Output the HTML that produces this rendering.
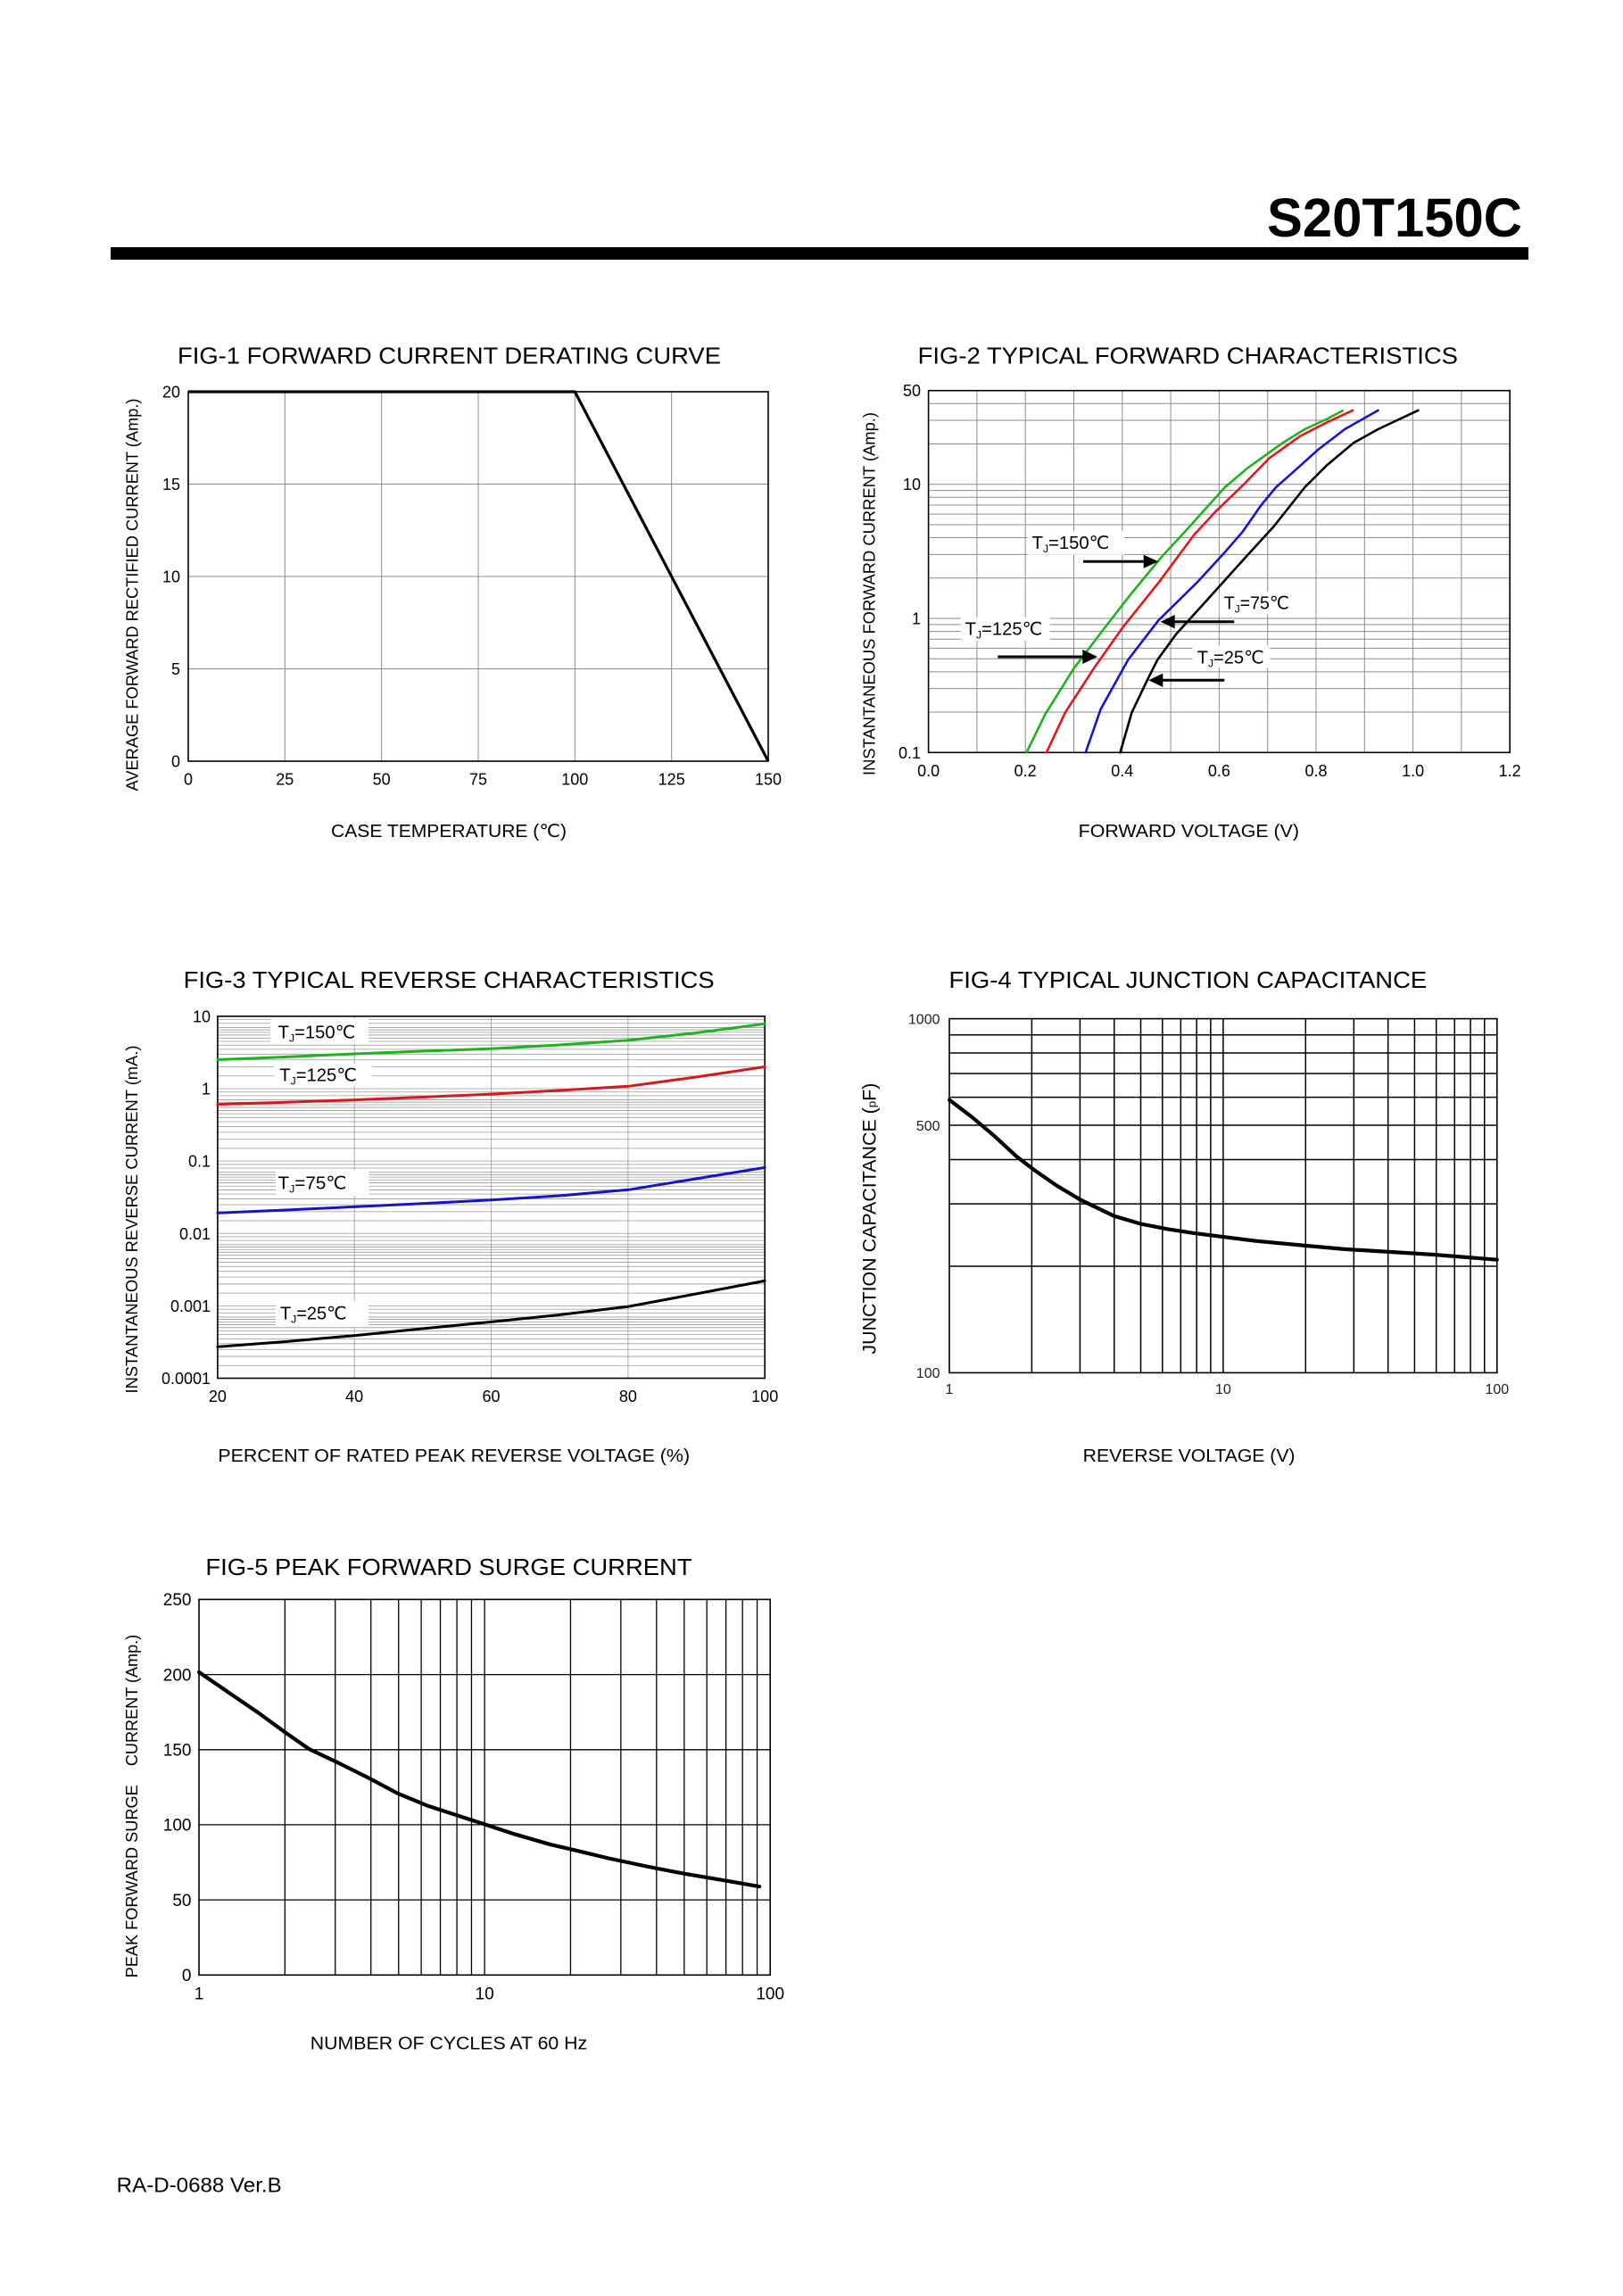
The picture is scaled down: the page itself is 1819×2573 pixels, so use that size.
<!DOCTYPE html>
<html>
<head>
<meta charset="utf-8">
<style>
html,body{margin:0;padding:0;background:#fff;}
svg{display:block;}
text{font-family:"Liberation Sans","DejaVu Sans","Noto Sans CJK SC",sans-serif;fill:#000;}
.t{font-size:26px;}
.tk{font-size:18px;}
.ax{font-size:20px;}
.yl{font-size:18px;}
.g{stroke:#8c8c8c;stroke-width:1;fill:none;}
.g3{stroke:#9a9a9a;stroke-width:0.8;fill:none;}
.gb{stroke:#000;stroke-width:1.5;fill:none;}
.bd{stroke:#000;stroke-width:1.6;fill:none;}
.lbl{font-size:20px;}
</style>
</head>
<body>
<svg width="1819" height="2573" viewBox="0 0 1819 2573" xmlns="http://www.w3.org/2000/svg">
<rect x="0" y="0" width="1819" height="2573" fill="#fff"/>

<!-- Header -->
<text x="1420" y="265" font-size="61" font-weight="bold" textLength="286" lengthAdjust="spacingAndGlyphs">S20T150C</text>
<rect x="124" y="277" width="1589" height="14" fill="#000"/>

<!-- ================= FIG 1 ================= -->
<text class="t" x="199" y="407.5" textLength="609" lengthAdjust="spacingAndGlyphs">FIG-1 FORWARD CURRENT DERATING CURVE</text>
<path class="g" d="M319.33 439V853M427.67 439V853M536 439V853M644.33 439V853M752.67 439V853M211 542.5H861M211 646H861M211 749.5H861"/>
<rect class="bd" x="211" y="439" width="650" height="414"/>
<polyline points="211,439 644.3,439 861,853" fill="none" stroke="#000" stroke-width="3.2" stroke-linejoin="round"/>
<g class="tk" text-anchor="end">
<text x="202" y="445.5">20</text>
<text x="202" y="549">15</text>
<text x="202" y="652.5">10</text>
<text x="202" y="756">5</text>
<text x="202" y="859.5">0</text>
</g>
<g class="tk" text-anchor="middle">
<text x="211" y="879.5">0</text>
<text x="319.3" y="879.5">25</text>
<text x="427.7" y="879.5">50</text>
<text x="536" y="879.5">75</text>
<text x="644.3" y="879.5">100</text>
<text x="752.7" y="879.5">125</text>
<text x="861" y="879.5">150</text>
</g>
<text class="yl" transform="translate(154.5,666.5) rotate(-90)" text-anchor="middle" textLength="440" lengthAdjust="spacingAndGlyphs">AVERAGE FORWARD RECTIFIED CURRENT (Amp.)</text>
<text class="ax" x="371" y="938" textLength="264" lengthAdjust="spacingAndGlyphs">CASE TEMPERATURE (℃)</text>

<!-- ================= FIG 2 ================= -->
<text class="t" x="1028.6" y="407.5" textLength="605.4" lengthAdjust="spacingAndGlyphs">FIG-2 TYPICAL FORWARD CHARACTERISTICS</text>
<path class="g" d="M1094.9 437.7V843.3M1149.2 437.7V843.3M1203.5 437.7V843.3M1257.8 437.7V843.3M1312.1 437.7V843.3M1366.4 437.7V843.3M1420.7 437.7V843.3M1475 437.7V843.3M1529.3 437.7V843.3M1583.6 437.7V843.3M1637.9 437.7V843.3
M1040.6 798.06H1692.2M1040.6 771.6H1692.2M1040.6 752.82H1692.2M1040.6 738.26H1692.2M1040.6 726.36H1692.2M1040.6 716.3H1692.2M1040.6 707.58H1692.2M1040.6 699.89H1692.2M1040.6 693.02H1692.2
M1040.6 647.78H1692.2M1040.6 621.32H1692.2M1040.6 602.54H1692.2M1040.6 587.98H1692.2M1040.6 576.08H1692.2M1040.6 566.02H1692.2M1040.6 557.3H1692.2M1040.6 549.61H1692.2M1040.6 542.74H1692.2
M1040.6 497.5H1692.2M1040.6 471.04H1692.2M1040.6 452.26H1692.2"/>
<rect class="bd" x="1040.6" y="437.7" width="651.6" height="405.6"/>
<!-- label boxes -->
<rect x="1151.7" y="595" width="108.3" height="26.7" fill="#fff"/>
<rect x="1076.7" y="691.7" width="100" height="26.6" fill="#fff"/>
<rect x="1366.7" y="663.3" width="83.3" height="25" fill="#fff"/>
<rect x="1336.7" y="723.3" width="86.6" height="25" fill="#fff"/>
<!-- curves -->
<g fill="none" stroke-width="2.6" stroke-linejoin="round" stroke-linecap="round">
<polyline stroke="#1fb21f" points="1150.5,843.3 1171.4,800.5 1203.7,748.8 1238.6,702.9 1268.4,664.6 1303.2,622.6 1328.1,595.8 1372.9,546 1397.7,525 1437.5,496.3 1462.4,481 1487.3,469.5 1504.7,460.3"/>
<polyline stroke="#e01818" points="1172.9,843.3 1193.8,798.6 1226.1,748.8 1258.5,702.9 1298.3,653.2 1338.1,599.6 1362.9,572.8 1392.8,544.1 1422.6,513.5 1457.4,488.6 1487.3,473.3 1516.1,459.9"/>
<polyline stroke="#1515cc" points="1216.7,843.3 1233.6,794.8 1264.4,739.3 1298.3,695.3 1343,651.3 1372.9,618.7 1392.8,595.8 1412.7,567.1 1430.1,546 1447.5,530.7 1477.3,503.9 1507.2,481 1544.5,459.9"/>
<polyline stroke="#000" points="1255.5,843.3 1268.4,798.6 1285.8,762.2 1297.3,739.3 1318.2,710.6 1353,672.3 1397.7,622.6 1427.6,590 1462.4,546 1487.3,521.2 1517.1,496.3 1544.5,481 1589.3,459.9"/>
</g>
<!-- labels -->
<text class="lbl" x="1156.7" y="615" textLength="86.6" lengthAdjust="spacingAndGlyphs">T<tspan font-size="12" dy="4">J</tspan><tspan dy="-4">=150℃</tspan></text>
<text class="lbl" x="1081.7" y="711.7" textLength="86.6" lengthAdjust="spacingAndGlyphs">T<tspan font-size="12" dy="4">J</tspan><tspan dy="-4">=125℃</tspan></text>
<text class="lbl" x="1371.7" y="682.7" textLength="73.3" lengthAdjust="spacingAndGlyphs">T<tspan font-size="12" dy="4">J</tspan><tspan dy="-4">=75℃</tspan></text>
<text class="lbl" x="1341.7" y="743.3" textLength="75" lengthAdjust="spacingAndGlyphs">T<tspan font-size="12" dy="4">J</tspan><tspan dy="-4">=25℃</tspan></text>
<!-- arrows -->
<g stroke="#000" stroke-width="3">
<line x1="1214" y1="629.3" x2="1284" y2="629.3"/>
<line x1="1118.3" y1="736" x2="1215" y2="736"/>
<line x1="1383.3" y1="696.7" x2="1315" y2="696.7"/>
<line x1="1372.3" y1="762.3" x2="1302" y2="762.3"/>
</g>
<g fill="#000">
<polygon points="1298.3,629.3 1281.7,621.8 1281.7,636.8"/>
<polygon points="1230,736 1213.3,728 1213.3,744"/>
<polygon points="1300.7,696.7 1316.7,689 1316.7,704.4"/>
<polygon points="1287.3,762.3 1303.3,754.6 1303.3,770"/>
</g>
<g class="tk" text-anchor="end">
<text x="1032" y="444.2">50</text>
<text x="1032" y="549.2">10</text>
<text x="1032" y="699.5">1</text>
<text x="1032" y="849.8">0.1</text>
</g>
<g class="tk" text-anchor="middle">
<text x="1040.6" y="870">0.0</text>
<text x="1149.2" y="870">0.2</text>
<text x="1257.8" y="870">0.4</text>
<text x="1366.4" y="870">0.6</text>
<text x="1475" y="870">0.8</text>
<text x="1583.6" y="870">1.0</text>
<text x="1692.2" y="870">1.2</text>
</g>
<text class="yl" transform="translate(980.5,665.5) rotate(-90)" text-anchor="middle" textLength="407" lengthAdjust="spacingAndGlyphs">INSTANTANEOUS FORWARD CURRENT (Amp.)</text>
<text class="ax" x="1208.7" y="938" textLength="247.3" lengthAdjust="spacingAndGlyphs">FORWARD VOLTAGE (V)</text>

<!-- ================= FIG 3 ================= -->
<text class="t" x="205.6" y="1107" textLength="595" lengthAdjust="spacingAndGlyphs">FIG-3 TYPICAL REVERSE CHARACTERISTICS</text>
<path class="g3" d="M397.2 1138.9V1544.5M550.5 1138.9V1544.5M703.9 1138.9V1544.5
M243.9 1530.22H857.2M243.9 1520.08H857.2M243.9 1512.22H857.2M243.9 1505.8H857.2M243.9 1500.36H857.2M243.9 1495.66H857.2M243.9 1491.51H857.2M243.9 1487.8H857.2M243.9 1484.44H857.2M243.9 1481.38H857.2M243.9 1478.56H857.2M243.9 1475.94H857.2M243.9 1471.24H857.2M243.9 1467.09H857.2M243.9 1463.38H857.2
M243.9 1449.1H857.2M243.9 1438.96H857.2M243.9 1431.1H857.2M243.9 1424.68H857.2M243.9 1419.24H857.2M243.9 1414.54H857.2M243.9 1410.39H857.2M243.9 1406.68H857.2M243.9 1403.32H857.2M243.9 1400.26H857.2M243.9 1397.44H857.2M243.9 1394.82H857.2M243.9 1390.12H857.2M243.9 1385.97H857.2M243.9 1382.26H857.2
M243.9 1367.98H857.2M243.9 1357.84H857.2M243.9 1349.98H857.2M243.9 1343.56H857.2M243.9 1338.12H857.2M243.9 1333.42H857.2M243.9 1329.27H857.2M243.9 1325.56H857.2M243.9 1322.2H857.2M243.9 1319.14H857.2M243.9 1316.32H857.2M243.9 1313.7H857.2M243.9 1309H857.2M243.9 1304.85H857.2M243.9 1301.14H857.2
M243.9 1286.86H857.2M243.9 1276.72H857.2M243.9 1268.86H857.2M243.9 1262.44H857.2M243.9 1257H857.2M243.9 1252.3H857.2M243.9 1248.15H857.2M243.9 1244.44H857.2M243.9 1241.08H857.2M243.9 1238.02H857.2M243.9 1235.2H857.2M243.9 1232.58H857.2M243.9 1227.88H857.2M243.9 1223.73H857.2M243.9 1220.02H857.2
M243.9 1205.74H857.2M243.9 1195.6H857.2M243.9 1187.74H857.2M243.9 1181.32H857.2M243.9 1175.88H857.2M243.9 1171.18H857.2M243.9 1167.03H857.2M243.9 1163.32H857.2M243.9 1159.96H857.2M243.9 1156.9H857.2M243.9 1154.08H857.2M243.9 1151.46H857.2M243.9 1146.76H857.2M243.9 1142.61H857.2"/>
<rect class="bd" x="243.9" y="1138.9" width="613.3" height="405.6"/>
<!-- label boxes -->
<rect x="303" y="1141.5" width="110" height="28.5" fill="#fff"/>
<rect x="306.7" y="1192" width="110" height="25" fill="#fff"/>
<rect x="309" y="1311" width="104.5" height="29" fill="#fff"/>
<rect x="309" y="1458.4" width="104" height="28.6" fill="#fff"/>
<g fill="none" stroke-width="3" stroke-linejoin="round" stroke-linecap="round">
<polyline stroke="#1fb21f" points="243.9,1187.5 320,1184.5 397.1,1181 473,1178 550.3,1175.2 627,1171 704.5,1165.7 780,1157.5 857.2,1147.3"/>
<polyline stroke="#d41a1a" points="243.9,1237.6 320,1235.2 397.1,1232.6 473,1229.5 550.3,1226.1 627,1222 704.5,1217.3 780,1207 857.2,1195.5"/>
<polyline stroke="#1515c8" points="243.9,1359.3 320,1356 397.1,1352.4 473,1348.8 550.3,1344.8 627,1340 704.5,1333.3 780,1321 857.2,1308.4"/>
<polyline stroke="#000" points="243.9,1509.3 320,1503.5 397.1,1496.7 473,1489 550.3,1481.4 627,1473.5 704.5,1464.1 780,1450 857.2,1435.4"/>
</g>
<text class="lbl" x="311.7" y="1163.3" textLength="86.6" lengthAdjust="spacingAndGlyphs">T<tspan font-size="12" dy="4">J</tspan><tspan dy="-4">=150℃</tspan></text>
<text class="lbl" x="313.3" y="1211.7" textLength="86.7" lengthAdjust="spacingAndGlyphs">T<tspan font-size="12" dy="4">J</tspan><tspan dy="-4">=125℃</tspan></text>
<text class="lbl" x="311.5" y="1332.5" textLength="77" lengthAdjust="spacingAndGlyphs">T<tspan font-size="12" dy="4">J</tspan><tspan dy="-4">=75℃</tspan></text>
<text class="lbl" x="314" y="1478.5" textLength="74.6" lengthAdjust="spacingAndGlyphs">T<tspan font-size="12" dy="4">J</tspan><tspan dy="-4">=25℃</tspan></text>
<g class="tk" text-anchor="end">
<text x="236" y="1145.4">10</text>
<text x="236" y="1226.5">1</text>
<text x="236" y="1307.6">0.1</text>
<text x="236" y="1388.8">0.01</text>
<text x="236" y="1469.9">0.001</text>
<text x="236" y="1551">0.0001</text>
</g>
<g class="tk" text-anchor="middle">
<text x="243.9" y="1571">20</text>
<text x="397.2" y="1571">40</text>
<text x="550.5" y="1571">60</text>
<text x="703.9" y="1571">80</text>
<text x="857.2" y="1571">100</text>
</g>
<text class="yl" transform="translate(154,1366.5) rotate(-90)" text-anchor="middle" textLength="390" lengthAdjust="spacingAndGlyphs">INSTANTANEOUS REVERSE CURRENT (mA.)</text>
<text class="ax" x="244.4" y="1638" textLength="528.7" lengthAdjust="spacingAndGlyphs">PERCENT OF RATED PEAK REVERSE VOLTAGE (%)</text>

<!-- ================= FIG 4 ================= -->
<text class="t" x="1063.5" y="1107" textLength="535.7" lengthAdjust="spacingAndGlyphs">FIG-4 TYPICAL JUNCTION CAPACITANCE</text>
<path class="gb" d="M1156.39 1141.6V1538.4M1210.43 1141.6V1538.4M1248.77 1141.6V1538.4M1278.51 1141.6V1538.4M1302.81 1141.6V1538.4M1323.36 1141.6V1538.4M1341.16 1141.6V1538.4M1356.86 1141.6V1538.4M1370.9 1141.6V1538.4
M1463.29 1141.6V1538.4M1517.33 1141.6V1538.4M1555.67 1141.6V1538.4M1585.41 1141.6V1538.4M1609.71 1141.6V1538.4M1630.26 1141.6V1538.4M1648.06 1141.6V1538.4M1663.76 1141.6V1538.4
M1064 1418.95H1677.8M1064 1349.08H1677.8M1064 1299.5H1677.8M1064 1261.05H1677.8M1064 1229.63H1677.8M1064 1203.06H1677.8M1064 1180.05H1677.8M1064 1159.76H1677.8"/>
<rect class="bd" x="1064" y="1141.6" width="613.8" height="396.8"/>
<polyline fill="none" stroke="#000" stroke-width="4.2" stroke-linejoin="round" stroke-linecap="round" points="1064,1232.6 1089.3,1251.8 1114.2,1272.8 1139.1,1295.8 1159,1311.1 1183.8,1328.3 1211.2,1344.7 1248.5,1362.7 1278.4,1371.5 1308.2,1377.3 1338.1,1381.9 1370.9,1386.1 1407.7,1390.7 1463.9,1396 1507.2,1399.9 1556.9,1402.9 1606.7,1406 1677.8,1411.7"/>
<g font-size="16" text-anchor="end" style="fill:#222">
<text x="1053.5" y="1147.3" style="fill:#222">1000</text>
<text x="1053.5" y="1267" style="fill:#222">500</text>
<text x="1053.5" y="1544.1" style="fill:#222">100</text>
</g>
<g font-size="16" text-anchor="middle">
<text x="1064" y="1562" style="fill:#222">1</text>
<text x="1370.9" y="1562" style="fill:#222">10</text>
<text x="1677.8" y="1562" style="fill:#222">100</text>
</g>
<text font-size="21" transform="translate(981.5,1365.6) rotate(-90)" text-anchor="middle" textLength="304" lengthAdjust="spacingAndGlyphs">JUNCTION CAPACITANCE (<tspan font-size="13">p</tspan>F)</text>
<text class="ax" x="1213.7" y="1638" textLength="237.8" lengthAdjust="spacingAndGlyphs">REVERSE VOLTAGE (V)</text>

<!-- ================= FIG 5 ================= -->
<text class="t" x="230.4" y="1765" textLength="545.2" lengthAdjust="spacingAndGlyphs">FIG-5 PEAK FORWARD SURGE CURRENT</text>
<path stroke="#000" stroke-width="1.3" fill="none" d="M319.36 1792.4V2213.3M375.73 1792.4V2213.3M415.72 1792.4V2213.3M446.74 1792.4V2213.3M472.09 1792.4V2213.3M493.52 1792.4V2213.3M512.08 1792.4V2213.3M528.45 1792.4V2213.3M543.1 1792.4V2213.3
M639.46 1792.4V2213.3M695.83 1792.4V2213.3M735.82 1792.4V2213.3M766.84 1792.4V2213.3M792.19 1792.4V2213.3M813.62 1792.4V2213.3M832.18 1792.4V2213.3M848.55 1792.4V2213.3
M223 1876.6H863.2M223 1960.8H863.2M223 2044.9H863.2M223 2129.1H863.2"/>
<rect class="bd" x="223" y="1792.4" width="640.2" height="420.9"/>
<polyline fill="none" stroke="#000" stroke-width="4.2" stroke-linejoin="round" stroke-linecap="round" points="223,1873.9 259.3,1898.8 289.1,1919.1 319,1940.9 346.3,1960 378.7,1975.3 413.5,1992.6 445.8,2009.8 478.2,2023.2 513,2034.6 542.8,2044.2 577.6,2055.7 617.4,2067.2 642.3,2072.9 682.1,2082.5 726.9,2092 766.7,2099.7 816.4,2108.1 851.2,2114.2"/>
<g font-size="19" text-anchor="end">
<text x="214.5" y="1799.2">250</text>
<text x="214.5" y="1883.4">200</text>
<text x="214.5" y="1967.6">150</text>
<text x="214.5" y="2051.7">100</text>
<text x="214.5" y="2135.9">50</text>
<text x="214.5" y="2220.1">0</text>
</g>
<g font-size="19" text-anchor="middle">
<text x="223" y="2240.5">1</text>
<text x="543.1" y="2240.5">10</text>
<text x="863.2" y="2240.5">100</text>
</g>
<text class="yl" transform="translate(154,1905.5) rotate(-90)" text-anchor="middle" textLength="147.4" lengthAdjust="spacingAndGlyphs">CURRENT (Amp.)</text>
<text class="yl" transform="translate(154,2108.3) rotate(-90)" text-anchor="middle" textLength="216.2" lengthAdjust="spacingAndGlyphs">PEAK FORWARD SURGE</text>
<text class="ax" x="347.8" y="2296.5" textLength="310.4" lengthAdjust="spacingAndGlyphs">NUMBER OF CYCLES AT 60 Hz</text>

<!-- Footer -->
<text x="130.7" y="2456.7" font-size="23" textLength="185" lengthAdjust="spacingAndGlyphs">RA-D-0688 Ver.B</text>
</svg>
</body>
</html>
